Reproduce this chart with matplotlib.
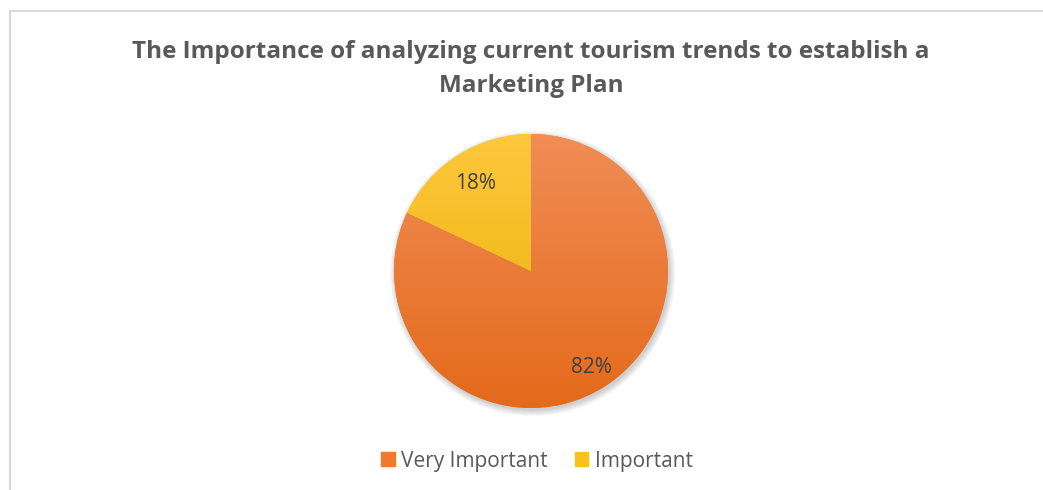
import numpy as np
import matplotlib.pyplot as plt
from matplotlib.colors import LinearSegmentedColormap
from matplotlib.patches import Rectangle, Circle

categories = ["Very Important", "Important"]
shares = [82, 18]
top_colors = ["#F18D55", "#FFC83D"]
bottom_colors = ["#E46A1B", "#E6AE00"]
legend_colors = ["#EE7A32", "#FBC11A"]
label_dist = [0.83, 0.76]

title = "The Importance of analyzing current tourism trends to establish a\nMarketing Plan"

W, H = 1043, 490
fig = plt.figure(figsize=(W / 100, H / 100), dpi=100)
fig.patch.set_facecolor("white")

# chart frame (only top and left edges fall inside the image)
fig.patches.append(Rectangle((9.5 / W, -0.1), 1.2, (H - 10.5) / H + 0.1,
                             transform=fig.transFigure, fill=False,
                             edgecolor="#D9D9D9", linewidth=1.5))

fig.text(531 / W, 1 - 69 / H, title, ha="center", va="center",
         fontsize=17.5, fontweight="bold", color="#595959",
         family="Open Sans", linespacing=1.58)

# pie axes: centre (531, 271) px, radius 137 px
cx, cy, r = 531, 271, 137
pad = 1.1
ax = fig.add_axes([(cx - r * pad) / W, (H - cy - r * pad) / H,
                   2 * r * pad / W, 2 * r * pad / H])
ax.set_xlim(-pad, pad)
ax.set_ylim(-pad, pad)
ax.set_aspect("equal")
ax.axis("off")

# soft shadow
for k in range(8):
    ax.add_patch(Circle((0.012, -0.018), 1.0 + 0.006 * k, color="black",
                        alpha=0.025, linewidth=0, zorder=0))

wedges, texts, autotexts = ax.pie(
    shares, startangle=90, counterclock=False, radius=1.0,
    colors=legend_colors, autopct="%d%%", pctdistance=0.7,
    wedgeprops=dict(linewidth=0),
    textprops=dict(fontsize=15, color="#404040", family="Open Sans"))
for t in texts:
    t.set_visible(False)

# vertical gradient inside each wedge
grad = np.linspace(0, 1, 256).reshape(-1, 1)
for w, c0, c1 in zip(wedges, top_colors, bottom_colors):
    cmap = LinearSegmentedColormap.from_list("g", [c0, c1])
    im = ax.imshow(grad, cmap=cmap, extent=[-1, 1, -1, 1], origin="upper",
                   aspect="auto", zorder=2)
    im.set_clip_path(w)

# move percentage labels along each wedge's mid-angle
for w, t, d in zip(wedges, autotexts, label_dist):
    ang = np.deg2rad((w.theta1 + w.theta2) / 2)
    t.set_position((d * np.cos(ang), d * np.sin(ang)))
    t.set_zorder(5)
ax.set_xlim(-pad, pad)
ax.set_ylim(-pad, pad)

# legend
handles = [Rectangle((0, 0), 1, 1, color=c) for c in legend_colors]
fig.legend(handles, categories, loc="center", bbox_to_anchor=(537 / W, 1 - 461 / H),
           ncol=2, frameon=False, handlelength=0.65, handleheight=0.65,
           handletextpad=0.3, columnspacing=1.3,
           prop=dict(family="Open Sans", size=15), labelcolor="#595959")

fig.savefig("out.png", dpi=100)
